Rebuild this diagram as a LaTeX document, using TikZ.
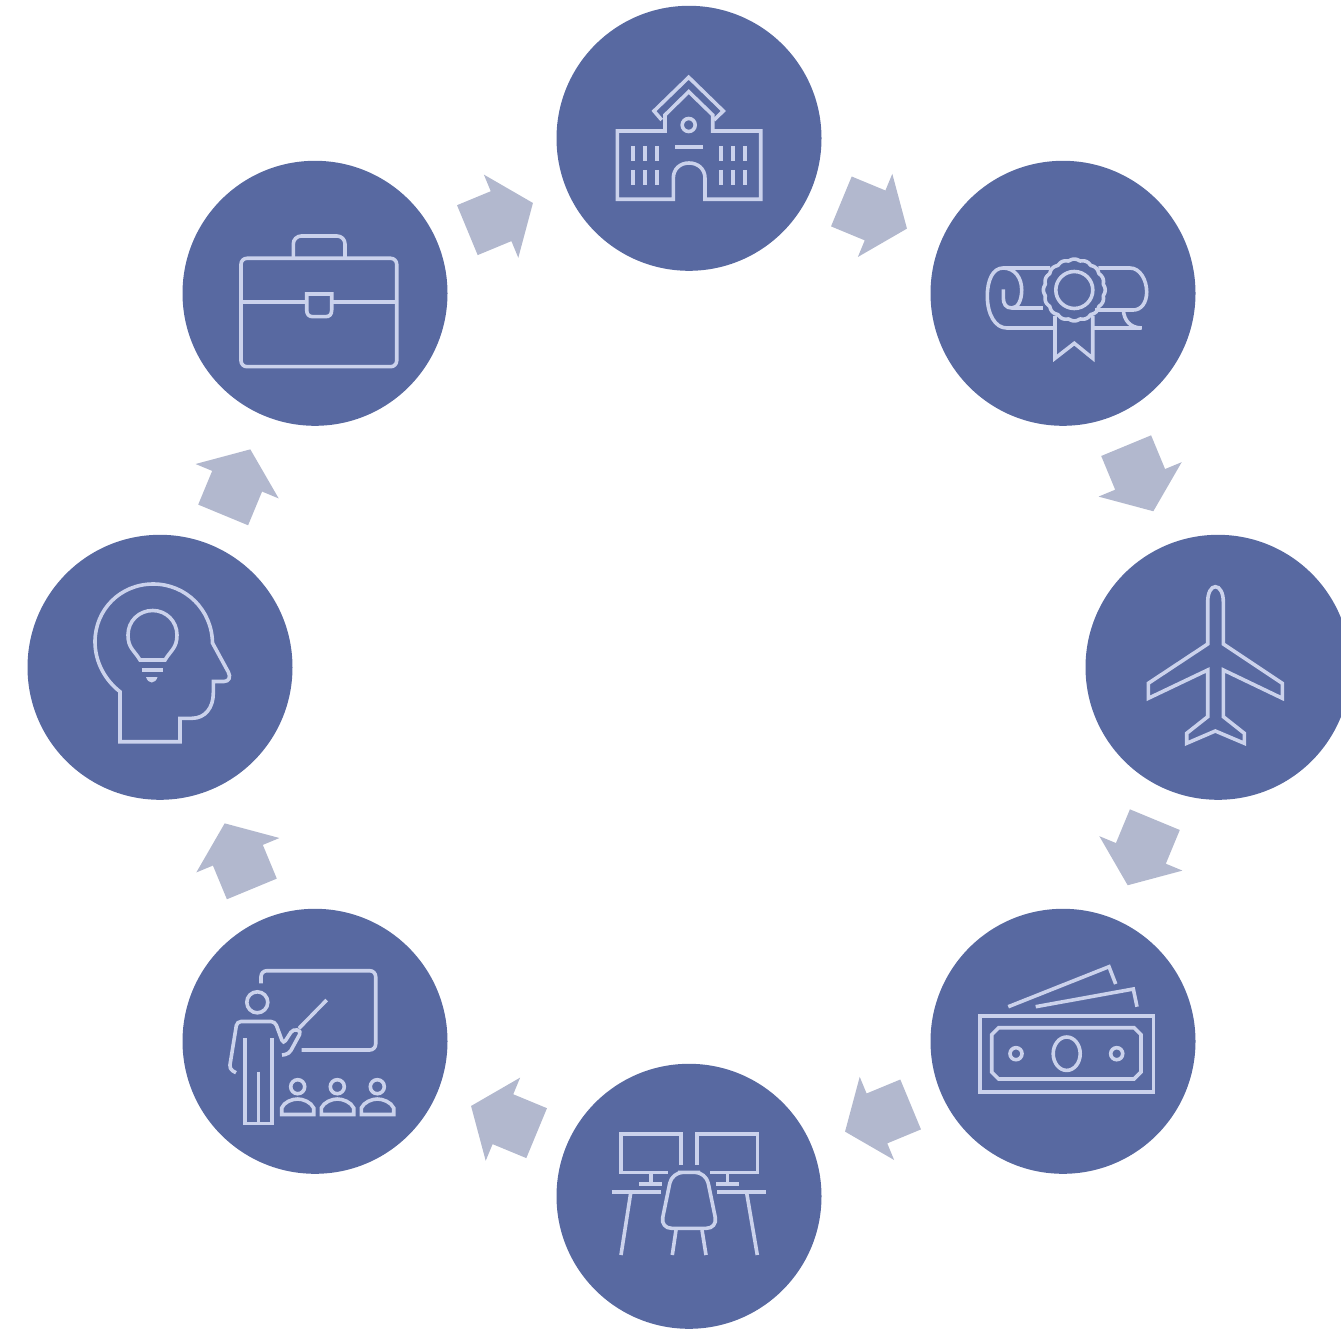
\documentclass[tikz,border=0pt]{standalone}
\usetikzlibrary{calc}
\definecolor{hubblue}{HTML}{5869A1}
\definecolor{linkgrey}{HTML}{B2B8CE}
\definecolor{iconpale}{HTML}{CBD2EC}
\tikzset{
  hub/.style={circle, fill=hubblue, minimum size=265pt, inner sep=0pt},
  iconline/.style={draw=iconpale, line width=3.6pt},
  linkarrow/.style={fill=linkgrey},
}
\newcommand{\linkarrow}[3]{\fill[linkarrow, shift={($(#1)!.5!(#2)$)}, rotate=#3]
  (-37.5,-27)--(-1,-27)--(-1,-45)--(33.5,0)--(-1,45)--(-1,27)--(-37.5,27)--cycle;}

\begin{document}
\begin{tikzpicture}[x=1pt, y=-1pt]
\useasboundingbox (0,0) rectangle (1341,1329);
\node[hub] (school) at (689,138.3) {};
\node[hub] (diploma) at (1063,293.3) {};
\node[hub] (plane) at (1218,667.3) {};
\node[hub] (cash) at (1063,1041.3) {};
\node[hub] (desk) at (689,1196.3) {};
\node[hub] (teacher) at (315,1041.3) {};
\node[hub] (mind) at (160,667.3) {};
\node[hub] (office) at (315,293.3) {};
\linkarrow{office}{school}{22.5}
\linkarrow{school}{diploma}{-22.5}
\linkarrow{diploma}{plane}{-67.5}
\linkarrow{plane}{cash}{-112.5}
\linkarrow{cash}{desk}{-157.5}
\linkarrow{desk}{teacher}{157.5}
\linkarrow{teacher}{mind}{112.5}
\linkarrow{mind}{office}{67.5}
% school
\draw[iconline](673.3,199.3)--(617.3,199.3)--(617.3,131)--(665,131)--(665,115)--(688.7,91.7)--(712.7,115)--(712.7,131)--(760.7,131)--(760.7,199.3)--(705,199.3)--(705,178.3) .. controls (705,169) and (698,163) .. (689,163) .. controls (680,163) and (673.3,169) .. (673.3,178.3)--cycle;
\draw[iconline](661.7,120)--(654,111)--(688.7,77.3)--(723.3,111)--(714,120);
\draw[iconline](688.7,125) circle (6.5);
\draw[iconline](675,147.3)--(702.7,147.3);
\draw[iconline](633,146)--(633,160.7);\draw[iconline](645,146)--(645,160.7);\draw[iconline](657,146)--(657,160.7);
\draw[iconline](633,170)--(633,185.3);\draw[iconline](645,170)--(645,185.3);\draw[iconline](657,170)--(657,185.3);
\draw[iconline](721,146)--(721,160.7);\draw[iconline](733,146)--(733,160.7);\draw[iconline](745,146)--(745,160.7);
\draw[iconline](721,170)--(721,185.3);\draw[iconline](733,170)--(733,185.3);\draw[iconline](745,170)--(745,185.3);
% diploma
\draw[iconline](1050,268)--(1003,268) .. controls (993,268) and (987.3,280) .. (987.3,296) .. controls (987.3,314) and (995,328) .. (1006.7,328)--(1053,328);
\draw[iconline](1003,268) .. controls (1015,268) and (1021.7,278) .. (1021.7,290) .. controls (1021.7,300) and (1018,308) .. (1011.7,308) .. controls (1006,308) and (1003.3,304) .. (1003.3,298)--(1003.3,289.3);
\draw[iconline](1011.7,308)--(1043.3,308);
\draw[iconline](1098.3,268)--(1130,268) .. controls (1140,268) and (1146.7,280) .. (1146.7,292) .. controls (1146.7,303) and (1141,310) .. (1133.3,310)--(1095,310);
\draw[iconline](1123.3,310) .. controls (1124,320) and (1130,328) .. (1141.7,328)--(1091.7,328);
\draw[iconline] plot[domain=0:360, samples=241] ({1074.3+(29.5+1.4*abs(cos(8*\x)))*cos(\x)},{290+(29.5+1.4*abs(cos(8*\x)))*sin(\x)});
\draw[iconline](1074.3,290) circle (18.5);
\draw[iconline](1055,316)--(1055,358.3)--(1074.3,343.3)--(1092.7,358.3)--(1092.7,316);
% plane
\draw[iconline](1215.3,586.7) .. controls (1220,586.7) and (1223.3,593) .. (1223.3,601.7)--(1223.3,644)--(1282.3,683.3)--(1282.3,698.3)--(1223.3,670)--(1223.3,716.7)--(1244.3,733.3)--(1244.3,743.3)--(1215.3,731)--(1186.7,743.3)--(1186.7,733.3)--(1207.7,716.7)--(1207.7,670)--(1148.3,698.3)--(1148.3,683.3)--(1207.7,644)--(1207.7,601.7) .. controls (1207.7,593) and (1211,586.7) .. (1215.3,586.7)--cycle;
% cash
\draw[iconline](980,1015.7) rectangle (1153.3,1091.7);
\draw[iconline](998.7,1027.7)--(1134,1027.7)--(1141,1034.7)--(1141,1072)--(1134,1079)--(998.7,1079)--(991.7,1072)--(991.7,1034.7)--cycle;
\draw[iconline](1016,1053.7) circle (6);
\draw[iconline](1116.7,1053.7) circle (6);
\draw[iconline](1066.7,1053.7) ellipse (13.5 and 16.7);
\draw[iconline](1008.3,1006.7)--(1109,966.7)--(1115.7,984);
\draw[iconline](1035.7,1006.7)--(1133.3,989)--(1137,1006.7);
% desk
\draw[iconline](680.7,1165)--(680.7,1134)--(620.7,1134)--(620.7,1172.3)--(668.3,1172.3);
\draw[iconline](696.7,1165)--(696.7,1134)--(757.3,1134)--(757.3,1172.3)--(710,1172.3);
\draw[iconline](650.7,1172.3)--(650.7,1184);\draw[iconline](639.3,1184)--(662,1184);
\draw[iconline](727.3,1172.3)--(727.3,1184);\draw[iconline](716,1184)--(738.7,1184);
\draw[iconline](611.7,1192)--(660.7,1192);\draw[iconline](717.3,1192)--(766,1192);
\draw[iconline](630.7,1193)--(621,1255);\draw[iconline](746.7,1193)--(757.3,1255);
\draw[iconline, rounded corners=11pt](689,1172.3)--(706,1172.3)--(717.5,1228.3)--(660.5,1228.3)--(672,1172.3)--cycle;
\draw[iconline](676,1230)--(672.3,1255);\draw[iconline](702,1230)--(706,1255);
% teacher
\draw[iconline, rounded corners=6pt](261,983.3)--(261,970.7)--(375.7,970.7)--(375.7,1050)--(301.7,1050);
\draw[iconline](257.3,1002.3) circle (10.5);
\draw[iconline, rounded corners=4pt](236,1072.7)--(229.3,1069)--(237,1021.5)--(275,1021.5)--(283.3,1044)--(293,1029)--(301.5,1031)--(289,1054)--(282,1055);
\draw[iconline](299,1028.3)--(326.7,1000);
\draw[iconline](245,1038.3)--(245,1123.3)--(271.7,1123.3)--(271.7,1038.3);
\draw[iconline](258.3,1071.7)--(258.3,1123.3);
\draw[iconline](297.7,1086.7) circle (7);
\draw[iconline](337.3,1086.7) circle (7);
\draw[iconline](377.3,1086.7) circle (7);
\draw[iconline](281.7,1114.5)--(281.7,1108) .. controls (284,1102) and (292,1099) .. (297.7,1099) .. controls (303,1099) and (311,1102) .. (313.7,1108)--(313.7,1114.5)--cycle;
\draw[iconline](321.3,1114.5)--(321.3,1108) .. controls (324,1102) and (332,1099) .. (337.3,1099) .. controls (343,1099) and (351,1102) .. (353.7,1108)--(353.7,1114.5)--cycle;
\draw[iconline](361.3,1114.5)--(361.3,1108) .. controls (364,1102) and (372,1099) .. (377.3,1099) .. controls (383,1099) and (391,1102) .. (393.7,1108)--(393.7,1114.5)--cycle;
% mind
\draw[iconline](120,691.7) .. controls (105,680) and (95,662) .. (95,641.7) .. controls (95,610) and (120,584) .. (153.3,584) .. controls (186,584) and (212,610) .. (212.5,643)--(228.3,672) .. controls (231,677) and (229,681.5) .. (224,681.5)--(213.3,681.5)--(213.3,693) .. controls (213.3,708) and (205,718.3) .. (192,718.3)--(180,718.3)--(180,741.7)--(120,741.7)--cycle;
\draw[iconline](140,660) .. controls (134,650) and (128,648) .. (128,635) .. controls (128,621) and (139,610.5) .. (152.7,610.5) .. controls (166,610.5) and (177,621) .. (177,635) .. controls (177,648) and (171,650) .. (165,660)--cycle;
\draw[iconline](141.7,669.7)--(163.3,669.7);
\fill[iconpale](146,677)--(157.5,677) .. controls (156.5,680.5) and (154,682.5) .. (151.7,682.5) .. controls (149.5,682.5) and (147,680.5) .. (146,677)--cycle;
% office
\draw[iconline, rounded corners=6pt](241,258.3) rectangle (396.7,366.7);
\draw[iconline, rounded corners=8pt](293.3,258.3)--(293.3,236)--(345,236)--(345,258.3);
\draw[iconline](241,302.3)--(306.7,302.3);\draw[iconline](331.7,302.3)--(396.7,302.3);
\draw[iconline](306.7,294)--(306.7,310) .. controls (306.7,314.5) and (309,316.7) .. (313,316.7)--(325.5,316.7) .. controls (329.5,316.7) and (331.7,314.5) .. (331.7,310)--(331.7,294)--cycle;
\end{tikzpicture}
\end{document}
